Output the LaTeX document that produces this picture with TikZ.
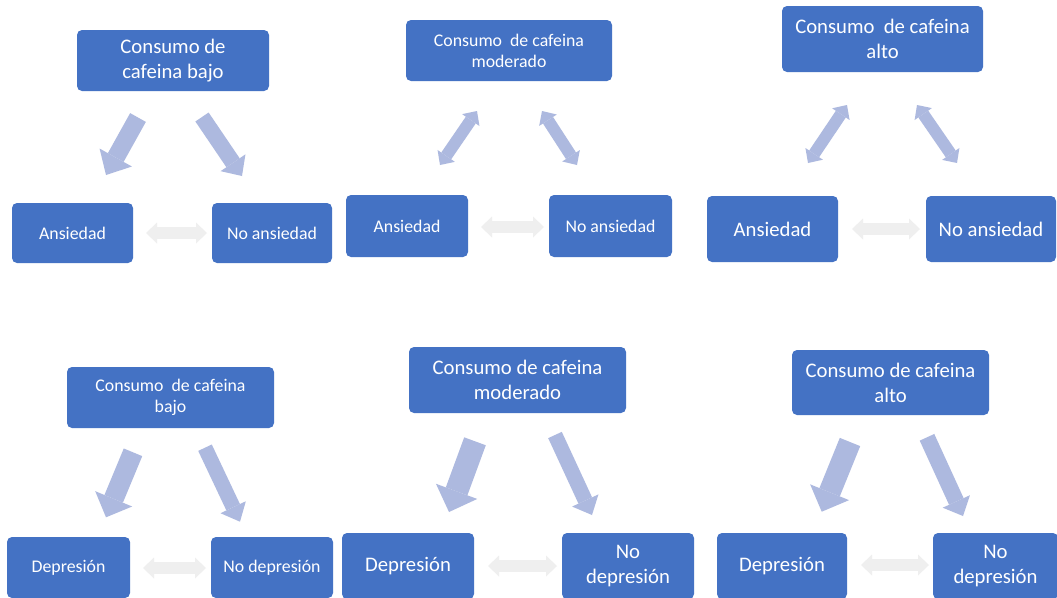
\documentclass[tikz,border=0pt]{standalone}
\usepackage{fontspec}
\setmainfont{Carlito}
\usepackage{xcolor}
\usetikzlibrary{arrows.meta}
\definecolor{azul}{HTML}{4472C4}
\definecolor{celeste}{HTML}{ADB9DF}
\definecolor{gris}{HTML}{EFEFEF}

\begin{document}
\begin{tikzpicture}[x=1pt,y=-1pt,
caja/.style={rectangle,rounded corners=5pt,fill=azul,text=white,align=center,inner sep=0pt},
grande/.style={font=\fontsize{20.7}{25}\selectfont},
chica/.style={font=\fontsize{17.8}{21}\selectfont},
flecha/.style n args={3}{celeste,line width=#1pt,-{Triangle[length=#3pt,width=#2pt,line width=0pt]}},
doble/.style={line width=12pt,{Triangle[length=11pt,width=21pt,line width=0pt]}-{Triangle[length=11pt,width=21pt,line width=0pt]}}]
\useasboundingbox (0,0) rectangle (1057,597);
\fill[white] (0,0) rectangle (1057,597);
% ansiedad
\node[caja,grande,minimum width=192pt,minimum height=61pt] (t1) at (173,60.5) {Consumo de\\cafeina bajo};
\node[caja,chica,minimum width=121pt,minimum height=60pt] (a1) at (72.5,233) {Ansiedad};
\node[caja,chica,minimum width=120pt,minimum height=60pt] (n1) at (272,233) {No ansiedad};
\node[caja,chica,minimum width=206pt,minimum height=61pt] (t2) at (509,50.5) {Consumo~ de cafeina\\moderado};
\node[caja,chica,minimum width=122pt,minimum height=62pt] (a2) at (407,226) {Ansiedad};
\node[caja,chica,minimum width=123pt,minimum height=62pt] (n2) at (610.5,226) {No ansiedad};
\node[caja,grande,minimum width=201pt,minimum height=66pt] (t3) at (882.5,39) {Consumo~ de cafeina\\alto};
\node[caja,grande,minimum width=131pt,minimum height=66pt] (a3) at (772.5,229) {Ansiedad};
\node[caja,grande,minimum width=130pt,minimum height=66pt] (n3) at (991,229) {No ansiedad};
% depresion
\node[caja,chica,minimum width=207pt,minimum height=61pt] (t4) at (170.5,397.5) {Consumo~ de cafeina\\bajo};
\node[caja,chica,minimum width=123pt,minimum height=61pt] (a4) at (68.5,567.5) {Depresión};
\node[caja,chica,minimum width=122pt,minimum height=61pt] (n4) at (272,567.5) {No depresión};
\node[caja,grande,minimum width=217pt,minimum height=66pt] (t5) at (517.5,380) {Consumo de cafeina\\moderado};
\node[caja,grande,minimum width=132pt,minimum height=66pt] (a5) at (408,566) {Depresión};
\node[caja,grande,minimum width=132pt,minimum height=66pt] (n5) at (628,566) {No\\depresión};
\node[caja,grande,minimum width=197pt,minimum height=65pt] (t6) at (890.5,382.5) {Consumo de cafeina\\alto};
\node[caja,grande,minimum width=130pt,minimum height=66pt] (a6) at (782,566) {Depresión};
\node[caja,grande,minimum width=125pt,minimum height=66pt] (n6) at (995.5,566) {No\\depresión};
% puntas de las flechas
\coordinate (p1) at (138,117.5); \coordinate (q1) at (106,175);
\coordinate (p2) at (202,117); \coordinate (q2) at (242,176);
\coordinate (h1) at (146,233); \coordinate (k1) at (207,233);
\coordinate (p3) at (440,165); \coordinate (q3) at (477,111);
\coordinate (p4) at (542,111); \coordinate (q4) at (577,165);
\coordinate (h2) at (481,227); \coordinate (k2) at (544,227);
\coordinate (p5) at (808,163); \coordinate (q5) at (847,105);
\coordinate (p6) at (917,105); \coordinate (q6) at (957,163);
\coordinate (h3) at (852,229); \coordinate (k3) at (920,229);
\coordinate (p7) at (133,452.3); \coordinate (q7) at (106,517.3);
\coordinate (p8) at (205,447.7); \coordinate (q8) at (240,521.7);
\coordinate (h4) at (143,568); \coordinate (k4) at (206,568);
\coordinate (p9) at (475,441.3); \coordinate (q9) at (449,512);
\coordinate (p10) at (555,435); \coordinate (q10) at (592,515);
\coordinate (h5) at (488,566); \coordinate (k5) at (557,566);
\coordinate (p11) at (850,442); \coordinate (q11) at (821.7,511.7);
\coordinate (p12) at (927,437.3); \coordinate (q12) at (963,516);
\coordinate (h6) at (861,565); \coordinate (k6) at (929,565);
\path (p1) edge[flecha={18}{37}{20}] (q1) (p2) edge[flecha={16}{30}{16}] (q2)
(p7) edge[flecha={20}{40}{20}] (q7) (p8) edge[flecha={15}{28}{16}] (q8)
(p9) edge[flecha={23}{44}{22}] (q9) (p10) edge[flecha={15}{29}{16}] (q10)
(p11) edge[flecha={22}{42}{21}] (q11) (p12) edge[flecha={16}{30}{16}] (q12);
\path (p3) edge[doble,celeste] (q3) (p4) edge[doble,celeste] (q4)
(p5) edge[doble,celeste] (q5) (p6) edge[doble,celeste] (q6);
\path (h1) edge[doble,gris] (k1) (h2) edge[doble,gris] (k2) (h3) edge[doble,gris] (k3)
(h4) edge[doble,gris] (k4) (h5) edge[doble,gris] (k5) (h6) edge[doble,gris] (k6);
\end{tikzpicture}
\end{document}
